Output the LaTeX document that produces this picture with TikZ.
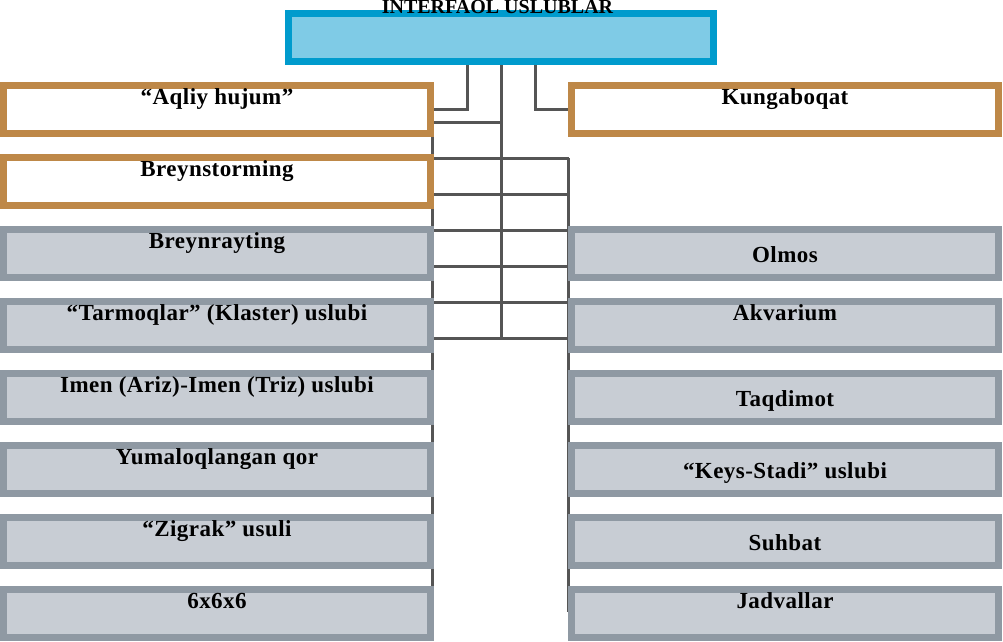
\documentclass[tikz,border=0pt]{standalone}
\usepackage{fontspec}
\setmainfont{Liberation Serif}
\newfontfamily\boxfont{Liberation Serif}[LetterSpace=2]
\usetikzlibrary{calc,backgrounds}
\definecolor{topfill}{RGB}{127,203,230}
\definecolor{topline}{RGB}{0,155,205}
\definecolor{orng}{RGB}{190,136,72}
\definecolor{gline}{RGB}{143,153,163}
\definecolor{gfill}{RGB}{200,205,212}
\definecolor{conn}{RGB}{85,85,85}
\begin{document}
\begin{tikzpicture}[x=1pt,y=-1pt,
  box/.style={rectangle, line width=7pt, minimum width=427pt, minimum height=48pt,
    inner sep=0pt, font=\boxfont\bfseries\fontsize{23}{27}\selectfont},
  obox/.style={box, draw=orng, fill=white},
  gbox/.style={box, draw=gline, fill=gfill},
  hi/.style={text height=18.5pt, text depth=29.5pt},
  mid/.style={text height=32.5pt, text depth=15.5pt},
  topbox/.style={rectangle, line width=7pt, draw=topline, fill=topfill,
    minimum width=425pt, minimum height=48pt, inner sep=0pt},
  conline/.style={draw=conn, line width=3pt}
]
\useasboundingbox (0,0) rectangle (1003,641);

\node[topbox] (top) at (501,37.5) {};
\node[anchor=base, inner sep=0pt, text height=13pt, text depth=0pt,
  font=\bfseries\fontsize{20}{24}\selectfont] (title) at (497.5,13.8) {INTERFAOL USLUBLAR};

% left column
\node[obox, hi] (aqliy)   at (217,109.5) {“Aqliy hujum”};
\node[obox, hi] (breynst) at (217,181.5) {Breynstorming};
\node[gbox, hi] (breynr)  at (217,253.5) {Breynrayting};
\node[gbox, hi] (klaster) at (217,325.5) {“Tarmoqlar” (Klaster) uslubi};
\node[gbox, hi] (imen)    at (217,397.5) {Imen (Ariz)-Imen (Triz) uslubi};
\node[gbox, hi] (yumaloq) at (217,469.5) {Yumaloqlangan qor};
\node[gbox, hi] (zigrak)  at (217,541.5) {“Zigrak” usuli};
\node[gbox, hi] (six)     at (217,613.5) {6x6x6};

% right column
\node[obox, hi]  (kung)     at (785,109.5) {Kungaboqat};
\node[gbox, mid] (olmos)    at (785,253.5) {Olmos};
\node[gbox, hi]  (akvarium) at (785,325.5) {Akvarium};
\node[gbox, mid] (taqdimot) at (785,397.5) {Taqdimot};
\node[gbox, mid] (keys)     at (785,469.5) {“Keys-Stadi” uslubi};
\node[gbox, mid] (suhbat)   at (785,541.5) {Suhbat};
\node[gbox, hi]  (jadval)   at (785,613.5) {Jadvallar};

% connectors
\coordinate (lbusT) at (432.5,122);
\coordinate (lbusB) at (432.5,612);
\coordinate (rbusT) at (568.5,158);
\coordinate (rbusB) at (568.5,612);
\coordinate (midB)  at (501,338);

\begin{scope}[on background layer]
  \draw[conline] ($(top.south)+(-34,0)$) |- (aqliy.east);
  \draw[conline] ($(top.south)+(34,0)$) |- (kung.west);
  \draw[conline] (top.south) -- (midB);
  \draw[conline] (lbusT) -- (lbusB);
  \draw[conline] (rbusT) -- (rbusB);
  \draw[conline] (lbusT) -- (lbusT -| top.south);
  \foreach \yy in {158,194,230,266,302,338}
    \draw[conline] (lbusT |- 0,\yy) -- (rbusT |- 0,\yy);
\end{scope}
\end{tikzpicture}
\end{document}
